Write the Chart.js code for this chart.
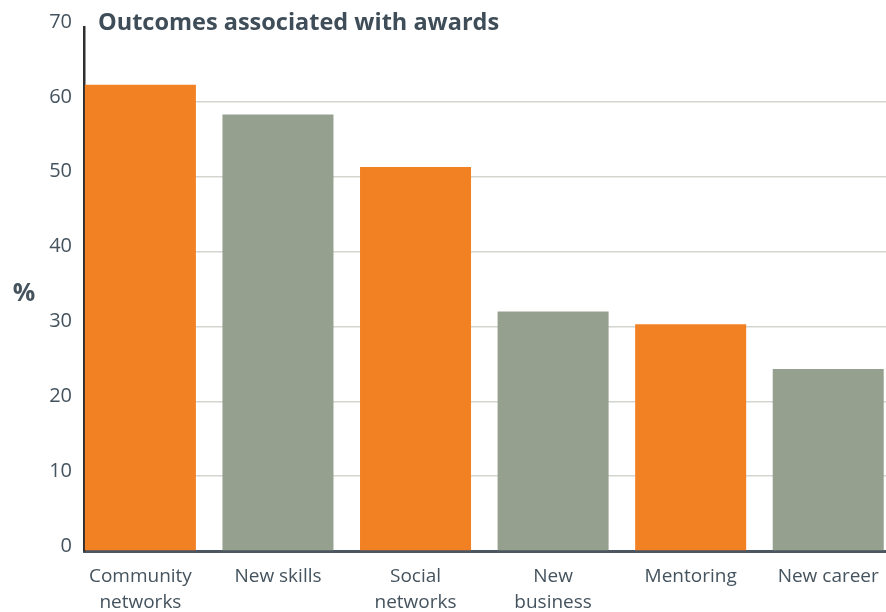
<!DOCTYPE html>
<html lang="en">
  <head>
    <meta charset="UTF-8" />
    <title>Outcomes associated with awards</title>
    <script src="https://cdn.jsdelivr.net/npm/chart.js@4"></script>
    <style>
      body { margin: 0; background: #fff; }
    </style>
  </head>
  <body>
    <canvas id="chart" width="886" height="612"></canvas>
    <script>
      const categories = [
        ['Community', 'networks'],
        ['New skills'],
        ['Social', 'networks'],
        ['New', 'business'],
        ['Mentoring'],
        ['New career'],
      ]
      const percentages = [62.3, 58.3, 51.3, 32.0, 30.3, 24.3]
      const barColours = ['#f28124', '#96a08f', '#f28124', '#96a08f', '#f28124', '#96a08f']
      const yTicks = [0, 10, 20, 30, 40, 50, 60, 70]

      const textColour = '#44535e'
      const fontFamily = '"Open Sans", sans-serif'

      // heading and the "%" unit label sit outside the normal layout boxes
      const headings = {
        id: 'headings',
        afterDraw(chart) {
          const ctx = chart.ctx
          const y = chart.scales.y
          ctx.save()
          ctx.fillStyle = '#3e4d58'
          ctx.font = `bold 23.5px ${fontFamily}`
          ctx.textAlign = 'left'
          ctx.textBaseline = 'alphabetic'
          ctx.fillText('Outcomes associated with awards', 98, 30)
          ctx.font = `bold 25px ${fontFamily}`
          ctx.textAlign = 'center'
          ctx.textBaseline = 'middle'
          ctx.fillStyle = textColour
          ctx.fillText('%', 24, (y.top + y.bottom) / 2 + 5)
          ctx.restore()
        },
      }

      const ctx = document.getElementById('chart')
      const chart = new Chart(ctx, {
        type: 'bar',
        data: {
          datasets: [
            {
              data: percentages.map((v, i) => ({ x: i, y: v })),
              backgroundColor: barColours,
              borderWidth: 0,
              categoryPercentage: 1,
              barPercentage: 0.807,
            },
          ],
        },
        options: {
          responsive: false,
          animation: false,
          layout: { padding: { top: 27, left: 0, right: 0, bottom: 0 } },
          plugins: {
            legend: { display: false },
            tooltip: { enabled: false },
          },
          scales: {
            x: {
              type: 'linear',
              offset: false,
              min: -0.41,
              max: 5.42,
              afterBuildTicks: (scale) => {
                scale.ticks = categories.map((c, i) => ({ value: i }))
              },
              afterFit: (scale) => {
                // labels fit inside the canvas, let the plot run to the right edge
                scale.height = 61
                scale.paddingLeft = 0
                scale.paddingRight = 0
              },
              grid: { display: false, drawTicks: false, offset: false },
              border: { display: true, color: '#4b5661', width: 3 },
              ticks: {
                autoSkip: false,
                maxRotation: 0,
                padding: 13,
                color: textColour,
                font: { family: fontFamily, size: 19, lineHeight: 1.37 },
                callback: (value) => categories[value],
              },
            },
            y: {
              min: 0,
              max: 70,
              afterBuildTicks: (scale) => {
                scale.ticks = yTicks.map((v) => ({ value: v }))
              },
              afterFit: (scale) => {
                scale.width = 84
              },
              grid: {
                drawTicks: false,
                lineWidth: 1.5,
                color: (c) => (c.tick && (c.tick.value === 0 || c.tick.value === 70) ? 'rgba(0,0,0,0)' : '#d3d6cf'),
              },
              border: { display: true, color: '#2f2f2f', width: 2.5 },
              ticks: {
                padding: 12,
                labelOffset: -5,
                color: textColour,
                font: { family: fontFamily, size: 20 },
              },
            },
          },
        },
        plugins: [headings],
      })
    </script>
  </body>
</html>
